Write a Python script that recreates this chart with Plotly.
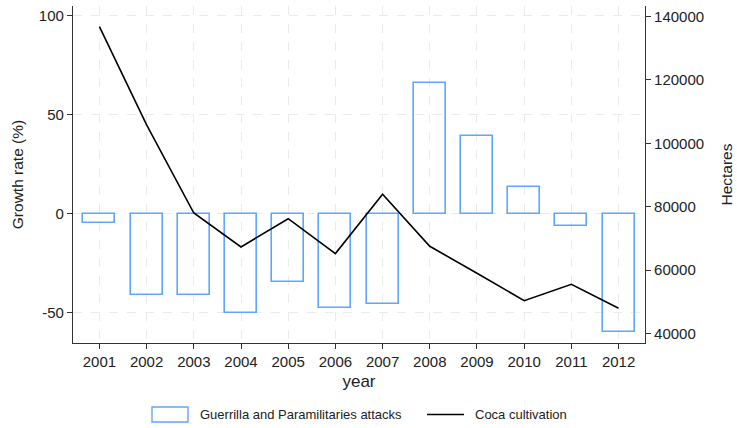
import plotly.graph_objects as go

# Annual series
years = [2001, 2002, 2003, 2004, 2005, 2006, 2007, 2008, 2009, 2010, 2011, 2012]
attacks_growth = [-4.5, -41.1, -41.0, -50.0, -34.3, -47.5, -45.3, 66.3, 39.5, 13.8, -6.2, -59.8]
coca_hectares = [136800, 105800, 78000, 67300, 76200, 65200, 83900, 67500, 59000, 50350, 55500, 47950]

left_ticks = [-50, 0, 50, 100]
right_ticks = [40000, 60000, 80000, 100000, 120000, 140000]

BAR_BLUE = "#5ea6ff"
GRID = "#ebebeb"
FONT = "Liberation Sans, Arial, sans-serif"

W, H = 737, 428
ML, MR, MT, MB = 73, 92, 6, 85
PW, PH = W - ML - MR, H - MT - MB

fig = go.Figure()

fig.add_trace(go.Bar(
    x=years, y=attacks_growth, base=0, width=0.68,
    marker=dict(color="rgba(0,0,0,0)", line=dict(color=BAR_BLUE, width=1.6)),
    name="Guerrilla and Paramilitaries attacks", showlegend=False,
))

fig.add_trace(go.Scatter(
    x=years, y=coca_hectares, yaxis="y2", mode="lines",
    line=dict(color="black", width=1.6),
    name="Coca cultivation", showlegend=False,
))

axis_common = dict(
    showline=True, linecolor="#333333", linewidth=1.2,
    ticks="outside", ticklen=5, tickcolor="#333333",
    tickfont=dict(family=FONT, size=15, color="#222222"),
    zeroline=False,
)

fig.update_layout(
    width=W, height=H,
    margin=dict(l=ML, r=MR, t=MT, b=MB),
    paper_bgcolor="white", plot_bgcolor="white",
    font=dict(family=FONT, color="#222222"),
    xaxis=dict(
        range=[2000.44, 2012.56], tickvals=years, ticktext=[str(y) for y in years],
        showgrid=True, gridcolor=GRID, griddash="dash", gridwidth=1,
        title=dict(text="year", font=dict(family=FONT, size=17), standoff=6),
        **axis_common,
    ),
    yaxis=dict(
        range=[-65.2, 105], tickvals=left_ticks, ticktext=[str(v) for v in left_ticks],
        showgrid=True, gridcolor=GRID, griddash="dash", gridwidth=1,
        title=dict(text="Growth rate (%)", font=dict(family=FONT, size=15.5), standoff=11),
        **axis_common,
    ),
    yaxis2=dict(
        overlaying="y", side="right",
        range=[37000, 143300], tickvals=right_ticks, ticktext=[str(v) for v in right_ticks],
        showgrid=False,
        title=dict(text="Hectares", font=dict(family=FONT, size=15.5), standoff=17),
        **axis_common,
    ),
    bargap=0,
)

# Legend drawn below the plot area
def px_x(p):
    return (p - ML) / PW

def px_y(p):
    return (H - MB - p) / PH

fig.add_shape(type="rect", xref="paper", yref="paper",
              x0=px_x(152), x1=px_x(188), y0=px_y(422), y1=px_y(407),
              line=dict(color=BAR_BLUE, width=1.4), fillcolor="rgba(0,0,0,0)")
fig.add_annotation(xref="paper", yref="paper", x=px_x(198), y=px_y(414.5),
                   xanchor="left", yanchor="middle", showarrow=False,
                   text="Guerrilla and Paramilitaries attacks",
                   font=dict(family=FONT, size=13, color="#222222"))
fig.add_shape(type="line", xref="paper", yref="paper",
              x0=px_x(427), x1=px_x(464), y0=px_y(414.5), y1=px_y(414.5),
              line=dict(color="black", width=1.6))
fig.add_annotation(xref="paper", yref="paper", x=px_x(473), y=px_y(414.5),
                   xanchor="left", yanchor="middle", showarrow=False,
                   text="Coca cultivation",
                   font=dict(family=FONT, size=13, color="#222222"))

fig.write_html("out.html")
